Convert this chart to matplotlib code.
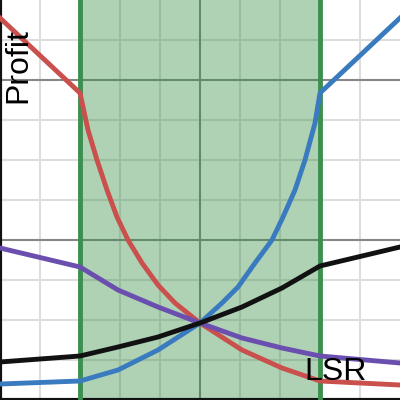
import matplotlib
matplotlib.use('Agg')
import matplotlib.pyplot as plt

# values (x and y both on a 0..10 scale)
red_x = [0, 2, 2.2, 2.425, 2.675, 2.925, 3.2, 3.55, 3.95, 4.375, 5, 6.05, 7.05, 8, 10]
red_y = [9.55, 7.675, 6.75, 6.0, 5.25, 4.575, 4.0, 3.425, 2.875, 2.425, 1.925,
         1.25, 0.8, 0.475, 0.375]

blue_x = [0, 2, 2.95, 3.95, 5, 5.55, 5.95, 6.375, 6.8, 7.075, 7.375, 7.625, 7.875, 8, 10]
blue_y = [0.4, 0.475, 0.75, 1.25, 1.925, 2.425, 2.825, 3.425, 4.0, 4.575, 5.25,
          6.0, 6.925, 7.675, 9.55]

black_x = [0, 2, 2.95, 3.95, 5, 6.05, 7.05, 8, 10]
black_y = [0.95, 1.1, 1.325, 1.575, 1.925, 2.325, 2.8, 3.35, 3.825]

purple_x = [0, 2, 2.95, 3.95, 5, 6.05, 7.05, 8, 10]
purple_y = [3.8, 3.325, 2.75, 2.325, 1.925, 1.55, 1.3, 1.1, 0.925]

band = (2, 8)
light_x = [1, 3, 4, 6, 7, 9]
light_y = [1, 2, 3, 5, 6, 7, 9]
dark_x = [5]
dark_y = [4, 8]

fig = plt.figure(figsize=(4, 4), dpi=100)
ax = fig.add_axes([0, 0, 1, 1])
ax.set_xlim(0, 10)
ax.set_ylim(0, 10)

for x in light_x:
    ax.axvline(x, color='#dddddd', lw=1.5, zorder=1)
for y in light_y:
    ax.axhline(y, color='#dddddd', lw=1.5, zorder=1)
for x in dark_x:
    ax.axvline(x, color='#888888', lw=1.5, zorder=1)
for y in dark_y:
    ax.axhline(y, color='#888888', lw=1.5, zorder=1)

ax.axvspan(band[0], band[1], facecolor='#2e8b3e', alpha=0.38, lw=0, zorder=2)
for x in band:
    ax.axvline(x, color='#3d8f4f', lw=3.5, zorder=3)

lw = 3.5
ax.plot(red_x, red_y, color='#c9504c', lw=lw, zorder=4, solid_joinstyle='round')
ax.plot(blue_x, blue_y, color='#3a7bbf', lw=lw, zorder=4, solid_joinstyle='round')
ax.plot(purple_x, purple_y, color='#6a4fae', lw=lw, zorder=4, solid_joinstyle='round')
ax.plot(black_x, black_y, color='#111111', lw=lw, zorder=5, solid_joinstyle='round')

ax.text(0.45, 8.35, 'Profit', rotation=90, ha='center', va='center',
        fontsize=23, family='Liberation Sans', zorder=6)
ax.text(8.4, 0.7, 'LSR', ha='center', va='center',
        fontsize=23, family='Liberation Sans', zorder=6)

ax.set_xticks([])
ax.set_yticks([])
for side in ['top', 'right']:
    ax.spines[side].set_visible(False)
for side in ['left', 'bottom']:
    ax.spines[side].set_linewidth(3)
    ax.spines[side].set_color('#111111')

fig.savefig('out.png', dpi=100)
